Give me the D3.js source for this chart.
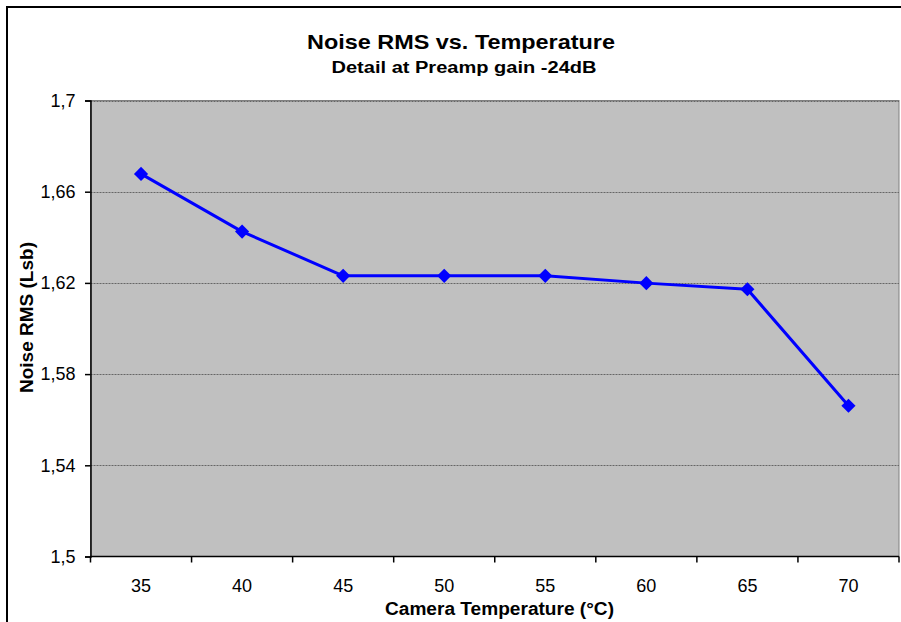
<!DOCTYPE html>
<html><head><meta charset="utf-8">
<script src="https://cdn.jsdelivr.net/npm/d3@7/dist/d3.min.js"></script>
<style>body{margin:0;background:#fff;} svg{display:block;font-family:"Liberation Sans",Arial,sans-serif;}</style>
</head><body>
<svg id="c" width="901" height="622"></svg>
<script>
const categories = ["35","40","45","50","55","60","65","70"];
const noiseRMS = [1.6678, 1.6425, 1.6231, 1.6231, 1.6231, 1.6199, 1.6172, 1.5661];
const yTicks = [1.5, 1.54, 1.58, 1.62, 1.66, 1.7];
const titleText = "Noise RMS vs. Temperature";
const subtitleText = "Detail at  Preamp gain -24dB";
const xLabel = "Camera Temperature (°C)";
const yLabel = "Noise RMS (Lsb)";

const svg = d3.select("#c");
const L = 90.5, R = 899, T = 100.5, B = 556.5;

// outer border
svg.append("rect").attr("x",7).attr("y",7).attr("width",905).attr("height",625)
  .attr("fill","#fff").attr("stroke","#000").attr("stroke-width",2);

const x = d3.scaleBand().domain(categories).range([L,R]).padding(0);
const y = d3.scaleLinear().domain([1.5,1.7]).range([B,T]);

svg.append("rect").attr("x",L).attr("y",T).attr("width",R-L).attr("height",B-T)
  .attr("fill","#C0C0C0").attr("stroke","#808080").attr("stroke-width",1);

// gridlines
svg.append("g").selectAll("line").data(yTicks.filter(d=>d>1.5)).join("line")
  .attr("x1",L).attr("x2",R).attr("y1",d=>Math.round(y(d))+0.5).attr("y2",d=>Math.round(y(d))+0.5)
  .attr("stroke","#666").attr("stroke-width",1).attr("stroke-dasharray","2,1");

// y axis
const fmt = d => String(+d.toFixed(2)).replace(".", ",");
const ya = svg.append("g").attr("transform",`translate(${L},0)`)
  .call(d3.axisLeft(y).tickValues(yTicks).tickFormat(fmt).tickSize(5.5).tickPadding(9.5));
ya.select(".domain").attr("stroke","#000").attr("stroke-width",1.5);
ya.selectAll(".tick line").attr("stroke","#000").attr("stroke-width",1.5);
ya.selectAll("text").attr("font-size",18).attr("fill","#000").attr("font-family","Liberation Sans, Arial, sans-serif");

// x axis: ticks at category boundaries
const xa = svg.append("g").attr("transform",`translate(0,${B})`);
xa.append("line").attr("x1",L).attr("x2",R).attr("y1",0).attr("y2",0).attr("stroke","#000").attr("stroke-width",1.5);
const bounds = categories.map(c=>x(c)).concat([x(categories[categories.length-1])+x.bandwidth()]);
xa.selectAll("line.tk").data(bounds).join("line").attr("class","tk")
  .attr("x1",d=>d).attr("x2",d=>d).attr("y1",0).attr("y2",6).attr("stroke","#000").attr("stroke-width",1.5);
xa.selectAll("text").data(categories).join("text")
  .attr("x",d=>x(d)+x.bandwidth()/2).attr("y",35).attr("text-anchor","middle")
  .attr("font-size",18).attr("fill","#000").text(d=>d);

// line
const line = d3.line().x((d,i)=>x(categories[i])+x.bandwidth()/2).y(d=>y(d));
svg.append("path").datum(noiseRMS).attr("d",line).attr("fill","none")
  .attr("stroke","#0000FF").attr("stroke-width",3).attr("stroke-linejoin","round");

// markers
svg.append("g").selectAll("path").data(noiseRMS).join("path")
  .attr("d",d3.symbol().type(d3.symbolSquare).size(100))
  .attr("transform",(d,i)=>`translate(${x(categories[i])+x.bandwidth()/2},${y(d)}) rotate(45)`)
  .attr("fill","#0000FF");

// titles
function label(txt, cx, cy, size, len, rot) {
  const t = svg.append("text").attr("text-anchor","middle").attr("font-size",size)
    .attr("font-weight","bold").attr("fill","#000")
    .attr("textLength",len).attr("lengthAdjust","spacingAndGlyphs").text(txt);
  if (rot) t.attr("transform",`translate(${cx},${cy}) rotate(-90)`);
  else t.attr("x",cx).attr("y",cy);
}
label(titleText, 461, 49, 21, 308);
label(subtitleText, 464, 73, 16, 265);
label(xLabel, 499.5, 615, 18, 229);
label(yLabel, 33, 317.5, 18, 151, true);
</script>
</body></html>
